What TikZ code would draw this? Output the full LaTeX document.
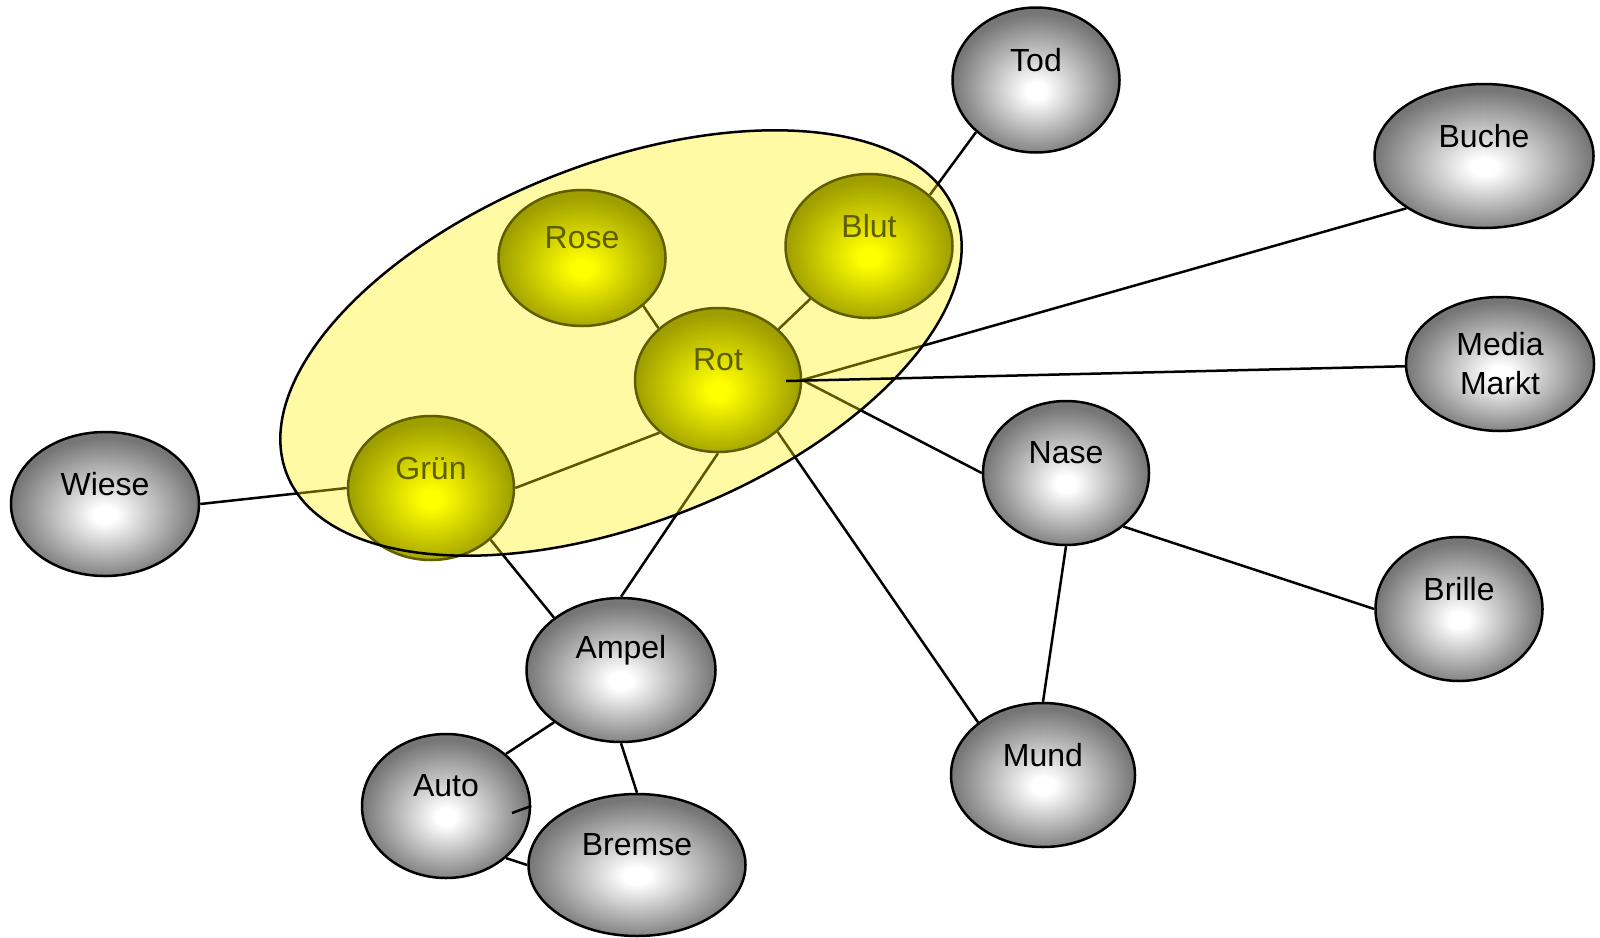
\documentclass[tikz,border=0pt]{standalone}
\usepackage{fontspec}
\setmainfont{Liberation Sans}
\usetikzlibrary{shapes.geometric}
\definecolor{ballgray}{RGB}{118,118,118}
\definecolor{ballyel}{RGB}{158,158,0}
\definecolor{olivedark}{RGB}{94,94,0}
\pgfdeclareradialshading{grayball}{\pgfpoint{0bp}{-4bp}}{color(0bp)=(white); color(3bp)=(white); color(25bp)=(ballgray); color(50bp)=(ballgray)}
\pgfdeclareradialshading{yelball}{\pgfpoint{0bp}{-4bp}}{color(0bp)=(yellow); color(3bp)=(yellow); color(25bp)=(ballyel); color(50bp)=(ballyel)}
\pgfdeclarelayer{bg}
\pgfdeclarelayer{edgelayer}
\pgfdeclarelayer{ovfill}
\pgfdeclarelayer{yel}
\pgfdeclarelayer{top}
\pgfsetlayers{bg,edgelayer,main,ovfill,yel,top}
\tikzset{
  lab/.style={label={[yshift=20pt]center:#1}},
  ylab/.style={label={[yshift=20pt,text=olivedark]center:#1}},
  gnode/.style={ellipse, draw=black, line width=2.5pt, shade, shading=grayball, inner sep=0pt},
  ynode/.style={ellipse, draw=olivedark, line width=2.5pt, shade, shading=yelball, inner sep=0pt},
  every label/.style={font=\fontsize{32}{38}\selectfont},
  edge/.style={draw=black, line width=2.5pt},
  bigell/.style={rotate around={21.4:(621,343)}}
}
\begin{document}
\begin{tikzpicture}[x=1pt,y=-1pt]
\begin{pgfonlayer}{bg}
\fill[white] (0,0) rectangle (1600,937);
\end{pgfonlayer}
\useasboundingbox (0,0) rectangle (1600,937);
% gray nodes
\node[gnode, minimum width=167pt, minimum height=145pt, lab=Tod] (tod) at (1036,80) {};
\node[gnode, minimum width=219pt, minimum height=144pt, lab=Buche] (buche) at (1484,156) {};
\node[gnode, minimum width=188pt, minimum height=134pt, label={[font=\fontsize{32}{39}\selectfont, align=center]center:Media\\Markt}] (mm) at (1500,364) {};
\node[gnode, minimum width=166pt, minimum height=144pt, lab=Nase] (nase) at (1066,473) {};
\node[gnode, minimum width=167pt, minimum height=144pt, lab=Brille] (brille) at (1459,609) {};
\node[gnode, minimum width=184pt, minimum height=144pt, lab=Mund] (mund) at (1043,775) {};
\node[gnode, minimum width=189pt, minimum height=144pt, lab=Ampel] (ampel) at (621,670) {};
\node[gnode, minimum width=188pt, minimum height=144pt, lab=Wiese] (wiese) at (105,504) {};
\node[gnode, minimum width=168pt, minimum height=144pt, lab=Auto] (auto) at (446,806) {};
\coordinate (autoin) at (512,813);
\draw[edge] (auto.east) -- (autoin);
\node[gnode, minimum width=217pt, minimum height=142pt, lab=Bremse] (bremse) at (637,865) {};
% yellow nodes
\begin{pgfonlayer}{yel}
\node[ynode, minimum width=166pt, minimum height=144pt, ylab=Rot] (rot) at (718,380) {};
\node[ynode, minimum width=167pt, minimum height=136pt, ylab=Rose] (rose) at (582,258) {};
\node[ynode, minimum width=167pt, minimum height=144pt, ylab=Blut] (blut) at (869,246) {};
\node[ynode, minimum width=166pt, minimum height=144pt, ylab=Grün] (gruen) at (431,488) {};
\end{pgfonlayer}
% edges
\begin{pgfonlayer}{edgelayer}
\draw[edge] (tod.221) -- (blut.40);
\draw[edge] (buche.214) -- (rot.east);
\draw[edge] (rot.east) -- (nase.west);
\draw[edge] (rot.-41) -- (mund.141);
\draw[edge] (rot.south) -- (ampel.north);
\draw[edge] (rot.222) -- (gruen.east);
\draw[edge] (rot.139) -- (rose.-38);
\draw[edge] (rot.40) -- (blut.222);
\draw[edge] (gruen.west) -- (wiese.east);
\draw[edge] (gruen.-41) -- (ampel.142);
\draw[edge] (nase.south) -- (mund.north);
\draw[edge] (nase.-43) -- (brille.west);
\draw[edge] (ampel.218) -- (auto.41);
\draw[edge] (ampel.south) -- (bremse.north);
\draw[edge] (auto.-41) -- (bremse.west);
\end{pgfonlayer}
% overlay ellipse
\begin{pgfonlayer}{ovfill}
\fill[yellow, fill opacity=0.36, bigell] (621,343) ellipse [x radius=359, y radius=180];
\end{pgfonlayer}
\begin{pgfonlayer}{top}
\draw[black, line width=2.5pt, bigell] (621,343) ellipse [x radius=359, y radius=180];
\coordinate (rotin) at (786,381);
\draw[edge] (mm) -- (rotin);
\end{pgfonlayer}
\end{tikzpicture}
\end{document}
